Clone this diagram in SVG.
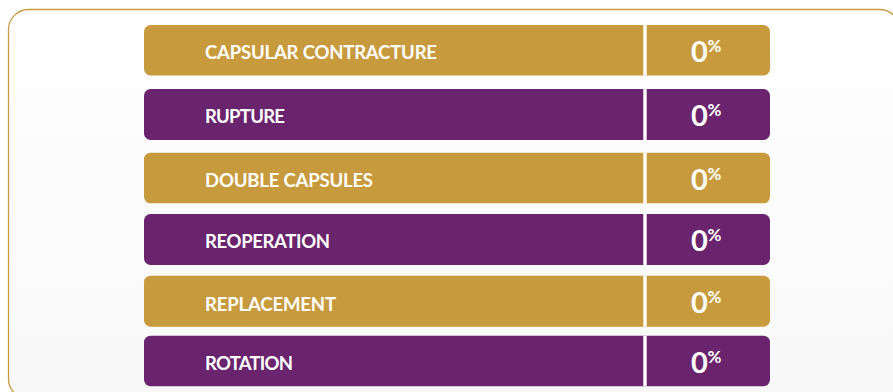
<svg xmlns="http://www.w3.org/2000/svg" width="893" height="392" viewBox="0 0 893 392">
<defs>
<linearGradient id="bg" x1="0" y1="0" x2="0" y2="1">
<stop offset="0" stop-color="#ffffff"/>
<stop offset="1" stop-color="#f8f8f8"/>
</linearGradient>
</defs>
<style>
.gold{fill:#C79B3D}
.purple{fill:#69246D}
.div{fill:#ffffff}
.lbl{font-family:Lato,"Open Sans","Liberation Sans",sans-serif;font-weight:700;font-size:18.5px;fill:#ffffff}
.num{font-family:Lato,"Open Sans","Liberation Sans",sans-serif;font-weight:700;font-size:29px;fill:#ffffff}
.pct{font-family:Lato,"Open Sans","Liberation Sans",sans-serif;font-weight:700;font-size:17px;fill:#ffffff}
</style>
<rect width="893" height="392" fill="#ffffff"/>
<rect x="8.5" y="9.5" width="891" height="389.5" rx="20" ry="20" fill="url(#bg)" stroke="#C99A3E" stroke-width="1.3"/>
<g id="row-capsular-contracture">
<rect class="gold" x="144" y="25" width="626" height="50.5" rx="6.5"/>
<rect class="div" x="643.3" y="25" width="3.4" height="50.5"/>
<text class="lbl" x="205" y="58.7" textLength="232">CAPSULAR CONTRACTURE</text>
<text class="num" x="691" y="62">0</text><text class="pct" x="707.5" y="52">%</text>
</g>
<g id="row-rupture">
<rect class="purple" x="144" y="89" width="626" height="51" rx="6.5"/>
<rect class="div" x="643.3" y="89" width="3.4" height="51"/>
<text class="lbl" x="205" y="122.7" textLength="80">RUPTURE</text>
<text class="num" x="691" y="126">0</text><text class="pct" x="707.5" y="116">%</text>
</g>
<g id="row-double-capsules">
<rect class="gold" x="144" y="152.7" width="626" height="50.6" rx="6.5"/>
<rect class="div" x="643.3" y="152.7" width="3.4" height="50.6"/>
<text class="lbl" x="205" y="186.7" textLength="168">DOUBLE CAPSULES</text>
<text class="num" x="691" y="189.7">0</text><text class="pct" x="707.5" y="179.7">%</text>
</g>
<g id="row-reoperation">
<rect class="purple" x="144" y="214" width="626" height="51" rx="6.5"/>
<rect class="div" x="643.3" y="214" width="3.4" height="51"/>
<text class="lbl" x="205" y="248.3" textLength="125">REOPERATION</text>
<text class="num" x="691" y="251">0</text><text class="pct" x="707.5" y="241">%</text>
</g>
<g id="row-replacement">
<rect class="gold" x="144" y="275.7" width="626" height="51" rx="6.5"/>
<rect class="div" x="643.3" y="275.7" width="3.4" height="51"/>
<text class="lbl" x="205" y="310.5" textLength="131">REPLACEMENT</text>
<text class="num" x="691" y="312.7">0</text><text class="pct" x="707.5" y="302.7">%</text>
</g>
<g id="row-rotation">
<rect class="purple" x="144" y="335.7" width="626" height="50.5" rx="6.5"/>
<rect class="div" x="643.3" y="335.7" width="3.4" height="50.5"/>
<text class="lbl" x="205" y="370" textLength="88">ROTATION</text>
<text class="num" x="691" y="372.7">0</text><text class="pct" x="707.5" y="362.7">%</text>
</g>
<g id="connectors"/>
</svg>
